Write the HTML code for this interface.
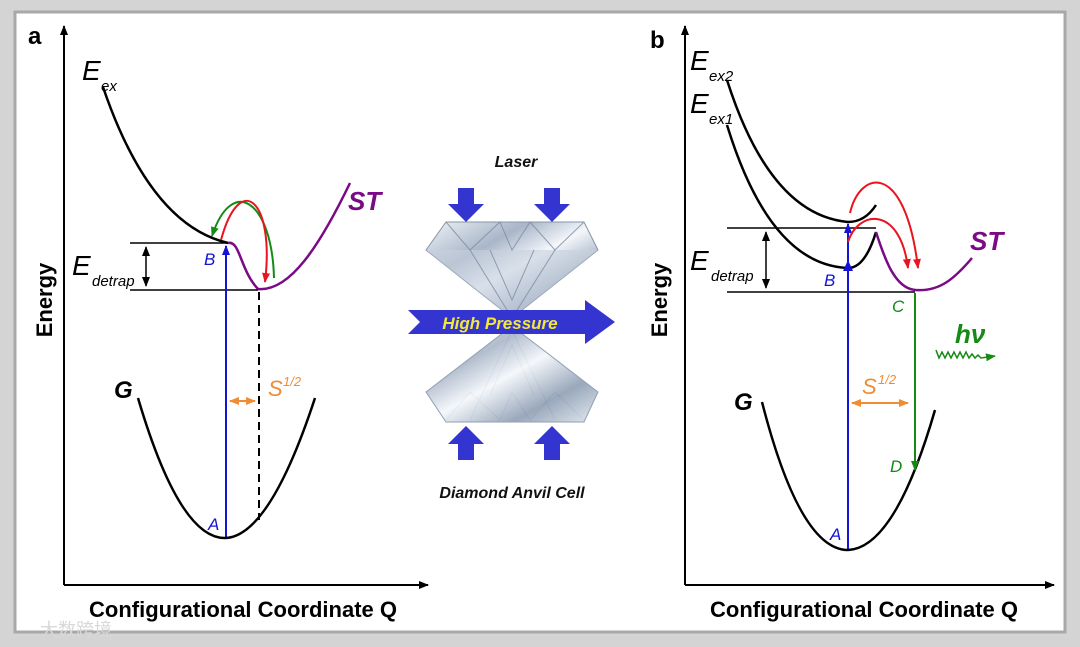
<!DOCTYPE html>
<html><head><meta charset="utf-8"><style>
html,body{margin:0;padding:0;background:#cfcfcf;}
svg{display:block;}
text{font-family:"Liberation Sans",Arial,sans-serif;}
</style></head><body>
<svg width="1080" height="647" viewBox="0 0 1080 647" xmlns="http://www.w3.org/2000/svg">
<defs>
<marker id="ak" markerWidth="10" markerHeight="10" refX="9" refY="5" orient="auto" markerUnits="userSpaceOnUse"><path d="M0,1 L10,5 L0,9 z" fill="#000"/></marker>
<marker id="ab" markerWidth="10" markerHeight="10" refX="9" refY="5" orient="auto" markerUnits="userSpaceOnUse"><path d="M0,1 L10,5 L0,9 z" fill="#1414d8"/></marker>
<marker id="ar" markerWidth="10" markerHeight="10" refX="9" refY="5" orient="auto" markerUnits="userSpaceOnUse"><path d="M0,1 L10,5 L0,9 z" fill="#e8141e"/></marker>
<marker id="ag" markerWidth="10" markerHeight="10" refX="9" refY="5" orient="auto" markerUnits="userSpaceOnUse"><path d="M0,1 L10,5 L0,9 z" fill="#158a15"/></marker>
<marker id="ao" markerWidth="10" markerHeight="10" refX="9" refY="5" orient="auto" markerUnits="userSpaceOnUse"><path d="M0,1 L10,5 L0,9 z" fill="#f08c32"/></marker>
<marker id="ao2" markerWidth="10" markerHeight="10" refX="1" refY="5" orient="auto" markerUnits="userSpaceOnUse"><path d="M10,1 L0,5 L10,9 z" fill="#f08c32"/></marker>
<marker id="ak2" markerWidth="10" markerHeight="10" refX="1" refY="5" orient="auto" markerUnits="userSpaceOnUse"><path d="M10,1 L0,5 L10,9 z" fill="#000"/></marker>
<linearGradient id="dg" x1="0" y1="0" x2="1" y2="1">
<stop offset="0" stop-color="#eef3f8"/><stop offset="0.3" stop-color="#a9b6c8"/><stop offset="0.5" stop-color="#f4f7fb"/><stop offset="0.75" stop-color="#8f9fb5"/><stop offset="1" stop-color="#e2e8f0"/></linearGradient>
</defs>
<rect x="0" y="0" width="1080" height="647" fill="#d4d4d4"/>
<rect x="15" y="12" width="1050" height="620" fill="#fff" stroke="#a8a8a8" stroke-width="3"/>

<!-- Panel a -->
<text x="28" y="44" font-size="24" font-weight="bold">a</text>
<line x1="64" y1="585" x2="64" y2="26" stroke="#000" stroke-width="2" marker-end="url(#ak)"/>
<line x1="64" y1="585" x2="428" y2="585" stroke="#000" stroke-width="2" marker-end="url(#ak)"/>
<text x="52" y="300" font-size="22" font-weight="bold" transform="rotate(-90 52 300)" text-anchor="middle">Energy</text>
<text x="243" y="617" font-size="22" font-weight="bold" text-anchor="middle">Configurational Coordinate Q</text>
<text x="82" y="80" font-size="28" font-style="italic">E</text><text x="101" y="91" font-size="15" font-style="italic">ex</text>
<path d="M103,87 Q150,225 228,243" fill="none" stroke="#000" stroke-width="2.5"/>
<path d="M228,243 C240,240 240,270 258,289 C290,292 320,245 350,183" fill="none" stroke="#7a0a86" stroke-width="2.5"/>
<line x1="130" y1="243" x2="228" y2="243" stroke="#000" stroke-width="1.5"/>
<line x1="130" y1="290" x2="258" y2="290" stroke="#000" stroke-width="1.5"/>
<line x1="146" y1="247" x2="146" y2="286" stroke="#000" stroke-width="1.5" marker-start="url(#ak2)" marker-end="url(#ak)"/>
<text x="72" y="275" font-size="28" font-style="italic">E</text><text x="92" y="286" font-size="15" font-style="italic">detrap</text>
<text x="348" y="210" font-size="26" font-weight="bold" font-style="italic" fill="#7a0a86">ST</text>
<line x1="226" y1="538" x2="226" y2="246" stroke="#1414d8" stroke-width="2" marker-end="url(#ab)"/>
<text x="204" y="265" font-size="17" font-style="italic" fill="#1414d8">B</text>
<text x="208" y="530" font-size="17" font-style="italic" fill="#1414d8">A</text>
<line x1="259" y1="292" x2="259" y2="520" stroke="#000" stroke-width="2" stroke-dasharray="8,5"/>
<path d="M138,398 Q180,540 226,538 Q270,535 315,398" fill="none" stroke="#000" stroke-width="2.5"/>
<text x="114" y="398" font-size="24" font-weight="bold" font-style="italic">G</text>
<line x1="230" y1="401" x2="255" y2="401" stroke="#f08c32" stroke-width="2" marker-start="url(#ao2)" marker-end="url(#ao)"/>
<text x="268" y="396" font-size="22" font-style="italic" fill="#f08c32">S</text><text x="283" y="386" font-size="13" font-style="italic" fill="#f08c32">1/2</text>
<path d="M274,278 C272,200 232,175 212,236" fill="none" stroke="#158a15" stroke-width="2" marker-end="url(#ag)"/>
<path d="M221,240 C240,170 275,200 265,282" fill="none" stroke="#e8141e" stroke-width="2" marker-end="url(#ar)"/>

<!-- Center DAC -->
<text x="516" y="167" font-size="16" font-style="italic" font-weight="bold" font-family="DejaVu Sans" text-anchor="middle" fill="#111">Laser</text>
<text x="512" y="498" font-size="16" font-style="italic" font-weight="bold" font-family="DejaVu Sans" text-anchor="middle" fill="#111">Diamond Anvil Cell</text>
<polygon points="446,222 584,222 598,250 512,318 426,250" fill="url(#dg)" stroke="#8795a8"/>
<polygon points="426,250 598,250 512,318" fill="#c7d1de" opacity="0.6"/>
<g stroke="#7d8ca2" stroke-width="1" fill="none" opacity="0.8">
<path d="M446,222 L470,250 L500,222 L512,250 L530,222 L555,250 L584,222"/>
<path d="M470,250 L512,318 L555,250 M490,250 L512,300 L534,250"/>
<path d="M470,420 L512,330 L555,420 M490,395 L512,345 L534,395"/>
<path d="M446,420 L470,392 L500,420 L512,392 L530,420 L555,392 L584,420"/>
</g>
<polygon points="512,326 426,392 446,422 584,422 598,392" fill="url(#dg)" stroke="#8795a8" opacity="0.9"/>
<g fill="#3434d0">
<polygon points="458,188 474,188 474,204 484,204 466,222 448,204 458,204"/>
<polygon points="544,188 560,188 560,204 570,204 552,222 534,204 544,204"/>
<polygon points="458,460 474,460 474,444 484,444 466,426 448,444 458,444"/>
<polygon points="544,460 560,460 560,444 570,444 552,426 534,444 544,444"/>
<polygon points="408,310 585,310 585,300 615,322 585,344 585,334 408,334 420,322"/>
</g>
<text x="500" y="329" font-size="17" font-style="italic" font-weight="bold" font-family="DejaVu Sans" text-anchor="middle" fill="#f2e83a">High Pressure</text>

<!-- Panel b -->
<text x="650" y="48" font-size="24" font-weight="bold">b</text>
<line x1="685" y1="585" x2="685" y2="26" stroke="#000" stroke-width="2" marker-end="url(#ak)"/>
<line x1="685" y1="585" x2="1054" y2="585" stroke="#000" stroke-width="2" marker-end="url(#ak)"/>
<text x="667" y="300" font-size="22" font-weight="bold" transform="rotate(-90 667 300)" text-anchor="middle">Energy</text>
<text x="864" y="617" font-size="22" font-weight="bold" text-anchor="middle">Configurational Coordinate Q</text>
<text x="690" y="70" font-size="28" font-style="italic">E</text><text x="709" y="81" font-size="15" font-style="italic">ex2</text>
<text x="690" y="113" font-size="28" font-style="italic">E</text><text x="709" y="124" font-size="15" font-style="italic">ex1</text>
<path d="M727,80 Q770,215 848,222 Q865,222 876,205" fill="none" stroke="#000" stroke-width="2.5"/>
<path d="M727,125 Q770,265 848,268 Q865,268 876,232" fill="none" stroke="#000" stroke-width="2.5"/>
<path d="M876,232 C885,260 895,288 915,290 C940,292 955,278 972,258" fill="none" stroke="#7a0a86" stroke-width="2.5"/>
<line x1="727" y1="228" x2="876" y2="228" stroke="#000" stroke-width="1.5"/>
<line x1="727" y1="292" x2="915" y2="292" stroke="#000" stroke-width="1.5"/>
<line x1="766" y1="232" x2="766" y2="288" stroke="#000" stroke-width="1.5" marker-start="url(#ak2)" marker-end="url(#ak)"/>
<text x="690" y="270" font-size="28" font-style="italic">E</text><text x="711" y="281" font-size="15" font-style="italic">detrap</text>
<text x="970" y="250" font-size="26" font-weight="bold" font-style="italic" fill="#7a0a86">ST</text>
<line x1="848" y1="550" x2="848" y2="224" stroke="#1414d8" stroke-width="2" marker-end="url(#ab)"/>
<path d="M843,271 L848,260 L853,271 z" fill="#1414d8"/>
<text x="824" y="286" font-size="17" font-style="italic" fill="#1414d8">B</text>
<text x="830" y="540" font-size="17" font-style="italic" fill="#1414d8">A</text>
<path d="M762,402 Q800,550 848,550 Q895,548 935,410" fill="none" stroke="#000" stroke-width="2.5"/>
<text x="734" y="410" font-size="24" font-weight="bold" font-style="italic">G</text>
<line x1="852" y1="403" x2="908" y2="403" stroke="#f08c32" stroke-width="2" marker-start="url(#ao2)" marker-end="url(#ao)"/>
<text x="862" y="394" font-size="22" font-style="italic" fill="#f08c32">S</text><text x="878" y="384" font-size="13" font-style="italic" fill="#f08c32">1/2</text>
<line x1="915" y1="293" x2="915" y2="470" stroke="#158a15" stroke-width="2" marker-end="url(#ag)"/>
<text x="892" y="312" font-size="17" font-style="italic" fill="#158a15">C</text>
<text x="890" y="472" font-size="17" font-style="italic" fill="#158a15">D</text>
<text x="955" y="343" font-size="26" font-style="italic" font-weight="bold" font-family="Liberation Serif" fill="#158a15">hν</text>
<path d="M936,350 l3,8 l3,-6 l3,6 l3,-6 l3,6 l3,-6 l3,6 l3,-6 l3,6 l3,-6 l3,6 l3,-4 l3,4 l3,-3 l3,3 l14,-2" fill="none" stroke="#158a15" stroke-width="1.5" marker-end="url(#ag)"/>
<path d="M850,213 C860,170 905,160 918,268" fill="none" stroke="#e8141e" stroke-width="2" marker-end="url(#ar)"/>
<path d="M848,242 C858,210 900,205 908,268" fill="none" stroke="#e8141e" stroke-width="2" marker-end="url(#ar)"/>

<text x="40" y="636" font-size="18" fill="#d8d8d8" font-family="Liberation Sans, Noto Sans CJK SC, sans-serif">大数跨境</text>
</svg>
</body></html>
